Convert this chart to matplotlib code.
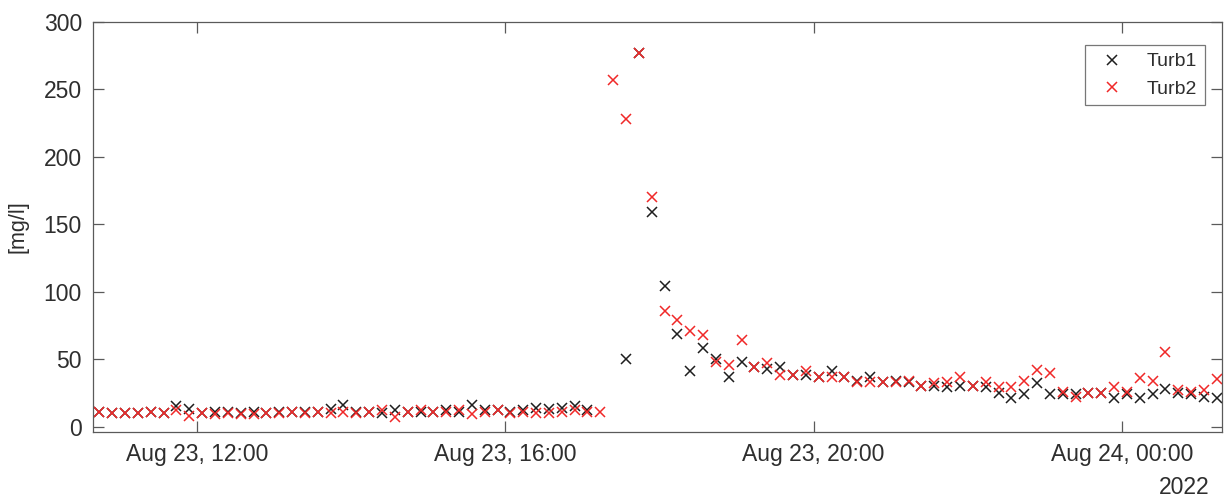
import numpy as np
import matplotlib
matplotlib.use("Agg")
from matplotlib import pyplot as plt
import matplotlib.dates as mdates

plt.rcParams['font.family'] = ['Liberation Sans', 'DejaVu Sans']

# sample times: every 10 min from 10:44 on Aug 23, 2022
t_start = np.datetime64('2022-08-23T10:44')
t_step = np.timedelta64(10, 'm')
n_pts = 88
time = t_start + np.arange(n_pts) * t_step

nan = float('nan')

# Turb1 (black) readings [mg/l]
turb1 = [11, 10, 10, 10, 11, 10, 15, 13, 10, 11,
         11, 10, 11, 10, 11, 11, 11, 11, 13, 16,
         11, 11, 10, 12, 11, 11, 11, 12, 11, 16,
         12, 12, 11, 12, 14, 13, 14, 15, 12, nan,
         nan, 50, 277, 159, 104, 69, 41, 58, 50, 37,
         48, 44, 43, 44, 38, 38, 37, 41, 37, 34,
         37, 33, 34, 33, 30, 30, 29, 30, 30, 29,
         25, 21, 24, 32, 24, 24, 24, 25, 25, 21,
         24, 21, 24, 28, 25, 24, 22, 21]

# Turb2 (red) readings [mg/l]
turb2 = [11, 10, 10, 10, 11, 10, 12, 8, 10, 9,
         10, 9, 9, 10, 10, 11, 10, 11, 10, 11,
         10, 11, 12, 7, 11, 12, 11, 11, 12, 9,
         11, 12, 10, 11, 10, 10, 11, 12, 11, 11,
         257, 228, 277, 170, 86, 79, 71, 68, 48, 46,
         64, 44, 47, 38, 38, 41, 37, 37, 37, 33,
         33, 33, 33, 34, 30, 32, 33, 37, 30, 33,
         29, 29, 34, 42, 40, 26, 22, 25, 25, 29,
         26, 36, 34, 55, 27, 26, 27, 35]

xticks = [np.datetime64('2022-08-23T12:00'), np.datetime64('2022-08-23T16:00'),
          np.datetime64('2022-08-23T20:00'), np.datetime64('2022-08-24T00:00')]
yticks = [0, 50, 100, 150, 200, 250, 300]

fig = plt.figure(figsize=(12.25, 4.97), dpi=100)
ax = fig.add_axes([93/1225, 1 - 432/497, (1222-93)/1225, (432-22)/497])

ax.plot(time, turb1, linestyle='none', marker='x', color='#1e1e1e', markersize=7.5,
        markeredgewidth=1.1, label='Turb1')
ax.plot(time, turb2, linestyle='none', marker='x', color='#f02828', markersize=7.5,
        markeredgewidth=1.1, label='Turb2')

ax.set_xlim(np.datetime64('2022-08-23T10:39'), np.datetime64('2022-08-24T01:18'))
ax.set_ylim(-4, 300)
ax.set_xticks(xticks)
ax.xaxis.set_major_formatter(mdates.DateFormatter('%b %d, %H:%M'))
ax.set_yticks(yticks)

axcol = '#5a5a5a'
for s in ax.spines.values():
    s.set_color(axcol)
    s.set_linewidth(0.9)
ax.tick_params(direction='in', length=8, width=0.9, color=axcol,
               labelsize=16.5, labelcolor='#2e2e2e', pad=8,
               top=True, right=True)

ax.set_ylabel('[mg/l]', fontsize=15.5, color='#2e2e2e')
ax.yaxis.set_label_coords(-0.057, 0.5)

ax.text(1.0 - 12/1129, -0.135, '2022', transform=ax.transAxes, ha='right',
        va='center', fontsize=16.5, color='#2e2e2e')

leg = ax.legend(loc='upper right', bbox_to_anchor=(0.985, 0.944), borderaxespad=0,
                fontsize=14, fancybox=False, framealpha=1, edgecolor='#777777')
leg.get_frame().set_linewidth(0.9)
for t in leg.get_texts():
    t.set_color('#2e2e2e')

plt.savefig('out.png', dpi=100)
